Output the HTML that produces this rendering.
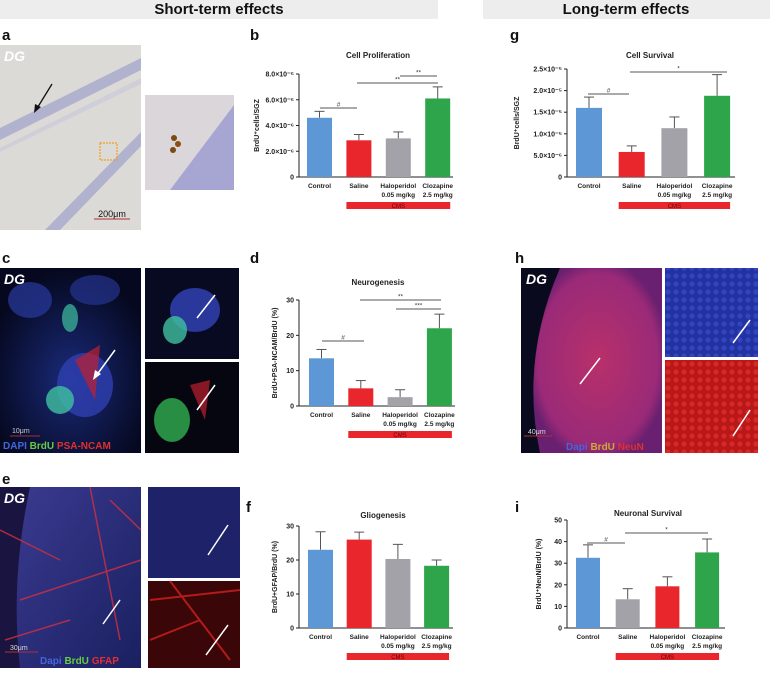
<!DOCTYPE html>
<html><head><meta charset="utf-8">
<style>
html,body{margin:0;padding:0;background:#fff;}
svg{display:block;font-family:"Liberation Sans",sans-serif;}
</style></head>
<body>
<svg id="fig" width="770" height="675" viewBox="0 0 770 675">
<defs>
 <radialGradient id="gc" cx="0.5" cy="0.6" r="0.6"><stop offset="0" stop-color="#1a2a7a"/><stop offset="1" stop-color="#05081e"/></radialGradient>
 <radialGradient id="gh" cx="0.5" cy="0.5" r="0.55"><stop offset="0" stop-color="#b8306a"/><stop offset="0.85" stop-color="#9a2a78"/><stop offset="1" stop-color="#6a2070"/></radialGradient>
 <linearGradient id="ge" x1="0" y1="0" x2="1" y2="1"><stop offset="0" stop-color="#3a3a90"/><stop offset="1" stop-color="#1a2060"/></linearGradient>
 <pattern id="dotsB" width="8" height="8" patternUnits="userSpaceOnUse"><rect width="8" height="8" fill="#2232a0"/><circle cx="4" cy="4" r="2.6" fill="#3244c0"/></pattern>
 <pattern id="dotsR" width="8" height="8" patternUnits="userSpaceOnUse"><rect width="8" height="8" fill="#b81818"/><circle cx="4" cy="4" r="2.6" fill="#d82828"/></pattern>
</defs>
<rect x="0" y="0" width="438" height="19" fill="#ededed"/>
<text x="219" y="14" text-anchor="middle" font-size="15" font-weight="bold" fill="#111">Short-term effects</text>
<rect x="483" y="0" width="287" height="19" fill="#ededed"/>
<text x="626" y="14" text-anchor="middle" font-size="15" font-weight="bold" fill="#111">Long-term effects</text>

<g font-size="15" font-weight="bold" fill="#111">
<text x="2" y="40">a</text>
<text x="250" y="40">b</text>
<text x="510" y="40">g</text>
<text x="2" y="263">c</text>
<text x="250" y="263">d</text>
<text x="515" y="263">h</text>
<text x="2" y="484">e</text>
<text x="246" y="512">f</text>
<text x="515" y="512">i</text>
</g>

<g>
 <rect x="0" y="45" width="141" height="185" fill="#dcdad6"/>
 <path d="M0,128 L141,58 L141,70 L0,140 Z" fill="#a5a7cc" opacity="0.8"/>
 <path d="M0,148 L141,78 L141,84 L0,152 Z" fill="#c6c6da" opacity="0.6"/>
 <path d="M45,230 L141,132 L141,146 L60,230 Z" fill="#a5a7cc" opacity="0.8"/>
 <rect x="100" y="143" width="17" height="17" fill="none" stroke="#f0a020" stroke-width="1.2" stroke-dasharray="2,1"/>
 <line x1="52" y1="84" x2="36" y2="110" stroke="#111" stroke-width="1.3"/>
 <path d="M34,113 L35,104 L41,107 Z" fill="#111"/>
 <line x1="94" y1="219" x2="130" y2="219" stroke="#b03030" stroke-width="1"/>
 <text x="112" y="217" text-anchor="middle" font-size="9" fill="#111">200μm</text>
 <text x="4" y="61" font-size="14" font-style="italic" font-weight="bold" fill="#fff">DG</text>
</g>
<g>
 <rect x="145" y="95" width="89" height="95" fill="#dad6da"/>
 <path d="M170,190 L234,105 L234,190 Z" fill="#9a9ad0" opacity="0.8"/>
 <circle cx="174" cy="138" r="3" fill="#7a4a10"/><circle cx="178" cy="144" r="3" fill="#8a5010"/><circle cx="173" cy="150" r="3" fill="#7a4a10"/>
</g>

<g>
 <rect x="0" y="268" width="141" height="185" fill="url(#gc)"/>
 <ellipse cx="30" cy="300" rx="22" ry="18" fill="#2a3aa0" opacity="0.7"/>
 <ellipse cx="95" cy="290" rx="25" ry="15" fill="#2a3aa0" opacity="0.6"/>
 <ellipse cx="85" cy="385" rx="28" ry="32" fill="#3040b0" opacity="0.8"/>
 <ellipse cx="60" cy="400" rx="14" ry="14" fill="#40c0a0" opacity="0.8"/>
 <ellipse cx="70" cy="318" rx="8" ry="14" fill="#40c0a0" opacity="0.7"/>
 <path d="M75,360 L100,345 L95,400 Z" fill="#c02030" opacity="0.7"/>
 <line x1="115" y1="350" x2="96" y2="376" stroke="#fff" stroke-width="1.5"/>
 <path d="M93,380 L95,370 L101,374 Z" fill="#fff"/>
 <line x1="10" y1="436" x2="40" y2="436" stroke="#a03030"/>
 <text x="12" y="433" font-size="7" fill="#ccc">10μm</text>
 <text x="3" y="449" font-size="10" font-weight="bold"><tspan fill="#4466dd">DAPI </tspan><tspan fill="#66cc44">BrdU </tspan><tspan fill="#e03030">PSA-NCAM</tspan></text>
 <text x="4" y="284" font-size="14" font-style="italic" font-weight="bold" fill="#fff">DG</text>
</g>
<g>
 <rect x="145" y="268" width="94" height="91" fill="#080a22"/>
 <ellipse cx="195" cy="310" rx="25" ry="22" fill="#3040b0" opacity="0.85"/>
 <ellipse cx="175" cy="330" rx="12" ry="14" fill="#40c0a0" opacity="0.8"/>
 <line x1="215" y1="295" x2="197" y2="318" stroke="#fff" stroke-width="1.5"/>
</g>
<g>
 <rect x="145" y="362" width="94" height="91" fill="#05060f"/>
 <ellipse cx="172" cy="420" rx="18" ry="22" fill="#30b050" opacity="0.8"/>
 <path d="M190,385 L210,380 L205,420 Z" fill="#c02030" opacity="0.7"/>
 <line x1="215" y1="385" x2="197" y2="410" stroke="#fff" stroke-width="1.5"/>
</g>

<g>
 <rect x="0" y="487" width="141" height="181" fill="#1a1440"/>
 <path d="M30,487 L141,487 L141,668 L20,668 Q10,580 30,487 Z" fill="url(#ge)"/>
 <path d="M0,530 L60,560 M20,600 L141,560 M90,487 L120,640 M5,640 L70,620 M110,500 L141,530" stroke="#d03040" stroke-width="1.5" opacity="0.8"/>
 <line x1="120" y1="600" x2="103" y2="624" stroke="#fff" stroke-width="1.5"/>
 <line x1="5" y1="652" x2="38" y2="652" stroke="#b03030"/>
 <text x="10" y="650" font-size="7" fill="#ddd">30μm</text>
 <text x="40" y="664" font-size="10" font-weight="bold"><tspan fill="#4466dd">Dapi </tspan><tspan fill="#66cc44">BrdU </tspan><tspan fill="#e03030">GFAP</tspan></text>
 <text x="4" y="503" font-size="14" font-style="italic" font-weight="bold" fill="#fff">DG</text>
</g>
<g>
 <rect x="148" y="487" width="92" height="91" fill="#1e2268"/>
 <line x1="228" y1="525" x2="208" y2="555" stroke="#fff" stroke-width="1.5"/>
</g>
<g>
 <rect x="148" y="581" width="92" height="87" fill="#3a0608"/>
 <path d="M150,600 L240,590 M170,581 L230,660 M150,640 L200,620" stroke="#d02020" stroke-width="2" opacity="0.8"/>
 <line x1="228" y1="625" x2="206" y2="655" stroke="#fff" stroke-width="1.5"/>
</g>

<g>
 <rect x="521" y="268" width="141" height="185" fill="#0a0a1e"/>
 <path d="M560,268 L662,268 L662,453 L540,453 Q520,360 560,268 Z" fill="url(#gh)"/>
 <line x1="600" y1="358" x2="580" y2="384" stroke="#fff" stroke-width="1.5"/>
 <line x1="524" y1="436" x2="552" y2="436" stroke="#b03030"/>
 <text x="528" y="434" font-size="7" fill="#ddd">40μm</text>
 <text x="566" y="450" font-size="10" font-weight="bold"><tspan fill="#4466dd">Dapi </tspan><tspan fill="#ccaa33">BrdU </tspan><tspan fill="#e03030">NeuN</tspan></text>
 <text x="526" y="284" font-size="14" font-style="italic" font-weight="bold" fill="#fff">DG</text>
</g>
<g>
 <rect x="665" y="268" width="93" height="89" fill="url(#dotsB)"/>
 <line x1="750" y1="320" x2="733" y2="343" stroke="#fff" stroke-width="1.5"/>
</g>
<g>
 <rect x="665" y="360" width="93" height="93" fill="url(#dotsR)"/>
 <line x1="750" y1="410" x2="733" y2="436" stroke="#fff" stroke-width="1.5"/>
</g>

<g id="charts"></g>
</svg>
<script>
const categories = ["Control","Saline","Haloperidol","Clozapine"];
const sublabels = ["","","0.05 mg/kg","2.5 mg/kg"];
const bValues = [4.6, 2.85, 3.0, 6.1];
const bErrors = [5.1, 3.3, 3.5, 7.0];
const bTicks = [0, 2, 4, 6, 8];
const bTickLabels = ["0","2.0×10⁻⁶","4.0×10⁻⁶","6.0×10⁻⁶","8.0×10⁻⁶"];
const gValues = [1.6, 0.58, 1.13, 1.88];
const gErrors = [1.85, 0.72, 1.39, 2.37];
const gTicks = [0, 0.5, 1.0, 1.5, 2.0, 2.5];
const gTickLabels = ["0","5.0×10⁻⁶","1.0×10⁻⁵","1.5×10⁻⁵","2.0×10⁻⁵","2.5×10⁻⁵"];
const dValues = [13.5, 5.0, 2.5, 22.0];
const dErrors = [16.0, 7.2, 4.6, 26.0];
const dTicks = [0, 10, 20, 30];
const fValues = [23.0, 26.0, 20.3, 18.3];
const fErrors = [28.3, 28.2, 24.6, 20.0];
const fTicks = [0, 10, 20, 30];
const iCategories = ["Control","Saline","Haloperidol","Clozapine"];
const iValues = [32.5, 13.3, 19.3, 35.0];
const iErrors = [38.5, 18.2, 23.7, 41.2];
const iTicks = [0, 10, 20, 30, 40, 50];
const colorsStd = ["#5d97d6","#e8262b","#a3a2a8","#2ea54a"];
const colorsI = ["#5d97d6","#a3a2a8","#e8262b","#2ea54a"];

const NS = "http://www.w3.org/2000/svg";
const root = document.getElementById("charts");
function mk(tag, attrs, parent, text){
  const e = document.createElementNS(NS, tag);
  for (const k in attrs) e.setAttribute(k, attrs[k]);
  if (text !== undefined) e.textContent = text;
  parent.appendChild(e);
  return e;
}
function drawChart(cfg){
  const g = mk("g", {}, root);
  
  
  const ymax = cfg.ticks[cfg.ticks.length-1];
  const yS = v => cfg.y0 - (v / ymax) * (cfg.y0 - cfg.ytop);
  const xS = i => cfg.x0 + cfg.off + i * cfg.step;
  const t = mk("text", {x: cfg.tx, y: cfg.ty, "text-anchor":"middle", "font-size":8, "font-weight":"bold", fill:"#222"}, g, cfg.title);
  
  
  const ax = mk("path", {d:`M${cfg.x0},${cfg.ytop} L${cfg.x0},${cfg.y0} L${cfg.xend},${cfg.y0}`, stroke:"#222", fill:"none", "stroke-width":1}, g);
  
  
  cfg.ticks.forEach((v, k) => {
    const y = yS(v);
    mk("line", {x1:cfg.x0-3, y1:y, x2:cfg.x0, y2:y, stroke:"#222"}, g);
    const tl = mk("text", {x:cfg.x0-5, y:y+2.5, "text-anchor":"end", "font-size":7, "font-weight":"bold", fill:"#222"}, g, cfg.tickLabels ? cfg.tickLabels[k] : String(v));
    
    
  });
  const yt = mk("text", {x:cfg.ylx, y:(cfg.y0+cfg.ytop)/2, "text-anchor":"middle", "font-size":7, "font-weight":"bold", fill:"#222", transform:`rotate(-90 ${cfg.ylx} ${(cfg.y0+cfg.ytop)/2})`}, g, cfg.ylabel);
  
  
  cfg.values.forEach((v, i) => {
    const x = xS(i), cx = x + cfg.w/2;
    const ey = yS(cfg.errors[i]);
    mk("line", {x1:cx, y1:ey, x2:cx, y2:yS(v), stroke:"#555", "stroke-width":1}, g);
    mk("line", {x1:cx-5, y1:ey, x2:cx+5, y2:ey, stroke:"#555", "stroke-width":1}, g);
    const r = mk("rect", {x:x, y:yS(v), width:cfg.w, height:cfg.y0 - yS(v), fill:cfg.colors[i]}, g);
    
    
    const cl = mk("text", {x:cx, y:cfg.y0+11, "text-anchor":"middle", "font-size":6.5, "font-weight":"bold", fill:"#222"}, g, cfg.cats[i]);
    
    
    if (sublabels[i]) mk("text", {x:cx, y:cfg.y0+20, "text-anchor":"middle", "font-size":6.5, "font-weight":"bold", fill:"#222"}, g, sublabels[i]);
  });
  const c1 = xS(1), c3 = xS(3) + cfg.w;
  const cms = mk("rect", {x:c1, y:cfg.y0+25, width:c3-c1, height:7, fill:"#e8262b"}, g);
  
  
  mk("text", {x:(c1+c3)/2, y:cfg.y0+31, "text-anchor":"middle", "font-size":6, fill:"#600"}, g, "CMS");
  (cfg.sig || []).forEach(s => {
    const sl = mk("line", {x1:s[0], y1:s[2], x2:s[1], y2:s[2], stroke:"#555", "stroke-width":1}, g);
    
    
    mk("text", {x:(s[0]+s[1])/2, y:s[2]-1.5, "text-anchor":"middle", "font-size":6.5, fill:"#333"}, g, s[3]);
  });
}
drawChart({name:"chart-cell-proliferation", title:"Cell Proliferation", tx:378, ty:58, x0:299, y0:177, ytop:74, xend:453, off:8, step:39.4, w:25,
  ticks:bTicks, tickLabels:bTickLabels, values:bValues, errors:bErrors, colors:colorsStd, cats:categories, ylabel:"BrdU⁺cells/SGZ", ylx:259,
  sig:[[320,357,108,"#"],[357,438,83,"**"],[400,437,76,"**"]]});
drawChart({name:"chart-cell-survival", title:"Cell Survival", tx:650, ty:58, x0:567, y0:177, ytop:69, xend:735, off:9, step:42.7, w:26,
  ticks:gTicks, tickLabels:gTickLabels, values:gValues, errors:gErrors, colors:colorsStd, cats:categories, ylabel:"BrdU⁺cells/SGZ", ylx:519,
  sig:[[588,629,94,"#"],[630,727,72,"*"]]});
drawChart({name:"chart-neurogenesis", title:"Neurogenesis", tx:378, ty:285, x0:299, y0:406, ytop:300, xend:455, off:10, step:39.3, w:25,
  ticks:dTicks, values:dValues, errors:dErrors, colors:colorsStd, cats:categories, ylabel:"BrdU+PSA-NCAM/BrdU (%)", ylx:277,
  sig:[[322,364,341,"#"],[360,441,300,"**"],[396,441,309,"***"]]});
drawChart({name:"chart-gliogenesis", title:"Gliogenesis", tx:383, ty:518, x0:299, y0:628, ytop:526, xend:453, off:9, step:38.7, w:25,
  ticks:fTicks, values:fValues, errors:fErrors, colors:colorsStd, cats:categories, ylabel:"BrdU+GFAP/BrdU (%)", ylx:277});
drawChart({name:"chart-neuronal-survival", title:"Neuronal Survival", tx:648, ty:516, x0:567, y0:628, ytop:520, xend:725, off:9, step:39.7, w:24,
  ticks:iTicks, values:iValues, errors:iErrors, colors:colorsI, cats:iCategories, ylabel:"BrdU⁺NeuN/BrdU (%)", ylx:541,
  sig:[[587,625,543,"#"],[625,708,533,"*"]]});
</script>
</body></html>
